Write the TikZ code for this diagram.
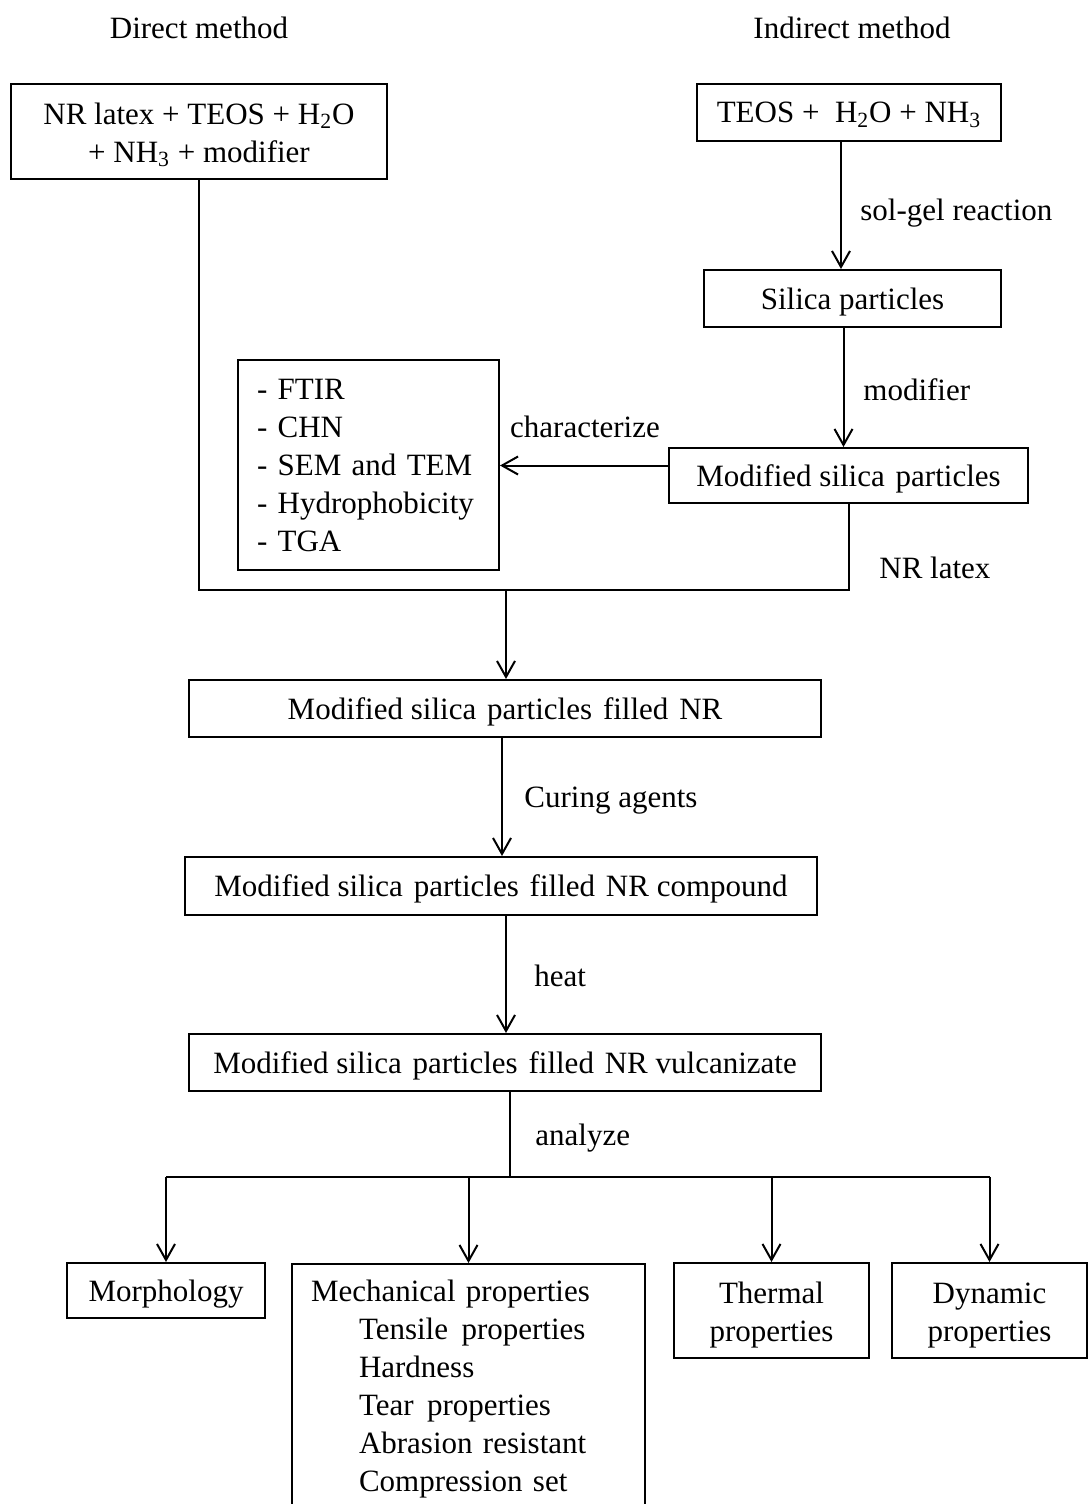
\documentclass[tikz,border=0pt]{standalone}
\usepackage{fontspec}
\setmainfont{Liberation Serif}
\usetikzlibrary{arrows.meta}
\newcommand{\wgap}{\ \hspace{0.1em}}
\tikzset{
  txt/.style={font=\fontsize{15.5}{19}\selectfont, inner sep=0pt},
  box/.style={txt, draw, line width=1pt, align=center},
  onebox/.style={box, text height=12.5pt, text depth=2pt},
  twobox/.style={box, text height=34.5pt},
  lst/.style={txt, draw, line width=1pt, align=left, inner xsep=9.5pt},
  arr/.style={line width=1pt, -{Straight Barb[length=8pt,width=9pt]}},
  ln/.style={line width=1pt}
}

\begin{document}
\begin{tikzpicture}[x=0.5pt,y=-0.5pt]
	\useasboundingbox (0,0) rectangle (1088,1504);
	\clip (0,0) rectangle (1088,1504);
	% headings
	\node[txt] (direct) at (199,28) {Direct method};
	\node[txt] (indirect) at (852,28) {Indirect method};
	% boxes
	\node[box, text height=33pt, minimum width=188pt, minimum height=47.5pt] (mix) at (199,131.5) {NR latex + TEOS + H\textsubscript{2}O\\+ NH\textsubscript{3} + modifier};
	\node[onebox, minimum width=152pt, minimum height=28.5pt] (teos) at (849,112.5) {TEOS +\ \ H\textsubscript{2}O + NH\textsubscript{3}};
	\node[onebox, minimum width=148.5pt, minimum height=28.5pt] (silica) at (852.5,298.5) {Silica particles};
	\node[onebox, minimum width=179.5pt, minimum height=27.5pt] (modsil) at (848.5,475.5) {Modified silica\wgap particles};
	\node[lst, text width=111.5pt, minimum height=105pt] (charbox) at (368.5,465) {- FTIR\\- CHN\\- SEM and TEM\\- Hydrophobicity\\- TGA};
	\node[onebox, minimum width=316pt, minimum height=28.5pt] (filled) at (505,708.5) {Modified silica\wgap particles\wgap filled\wgap NR};
	\node[onebox, minimum width=316pt, minimum height=29pt] (compound) at (501,886) {Modified silica\wgap particles\wgap filled\wgap NR compound};
	\node[onebox, minimum width=316pt, minimum height=28.5pt] (vulc) at (505,1062.5) {Modified silica\wgap particles\wgap filled\wgap NR vulcanizate};
	\node[onebox, minimum width=99pt, minimum height=27.5pt] (morph) at (166,1290.5) {Morphology};
	\node[lst, text width=157.5pt, inner ysep=8pt, anchor=north] (mech) at (468.5,1263) {Mechanical properties\\
		\hspace*{24pt}Tensile\wgap properties\\
		\hspace*{24pt}Hardness\\
		\hspace*{24pt}Tear\wgap properties\\
		\hspace*{24pt}Abrasion resistant\\
		\hspace*{24pt}Compression set};
	\node[twobox, minimum width=97.5pt, minimum height=47.5pt] (therm) at (771.5,1310.5) {Thermal\\properties};
	\node[twobox, minimum width=97.5pt, minimum height=47.5pt] (dyn) at (989.5,1310.5) {Dynamic\\properties};
	% connectors
	\coordinate (merge) at (506,590);
	\coordinate (split) at (510,1177);
	\draw[arr] ([xshift=-4pt]teos.south) -- ([xshift=-4pt]teos.south |- silica.north);
	\draw[arr] ([xshift=-4.5pt]silica.south) -- ([xshift=-4.5pt]silica.south |- modsil.north);
	\draw[arr] ([yshift=5pt]modsil.west) -- ([yshift=5pt]modsil.west -| charbox.east);
	\draw[ln] (mix.south) |- (modsil.south |- merge) -- (modsil.south);
	\draw[arr] (merge) -- (merge |- filled.north);
	\draw[arr] ([xshift=-1.5pt]filled.south) -- ([xshift=-1.5pt]filled.south |- compound.north);
	\draw[arr] ([xshift=2.5pt]compound.south) -- ([xshift=2.5pt]compound.south |- vulc.north);
	\draw[ln] (vulc.south -| split) -- (split);
	\draw[ln] (split -| morph.north) -- (split -| dyn.north);
	\foreach \n in {morph,mech,therm,dyn}
		\draw[arr] (split -| \n.north) -- (\n.north);
	% labels
	\node[txt, anchor=west] (solgel) at (860,213) {sol-gel reaction};
	\node[txt, anchor=west] (modlbl) at (863,390) {modifier};
	\node[txt] (charlbl) at (585,427) {characterize};
	\node[txt, anchor=west] (nrlbl) at (879,568) {NR latex};
	\node[txt, anchor=west] (curlbl) at (524,801) {Curing agents};
	\node[txt, anchor=west] (heatlbl) at (534,976) {heat};
	\node[txt, anchor=west] (analbl) at (535,1138) {analyze};
\end{tikzpicture}
\end{document}
